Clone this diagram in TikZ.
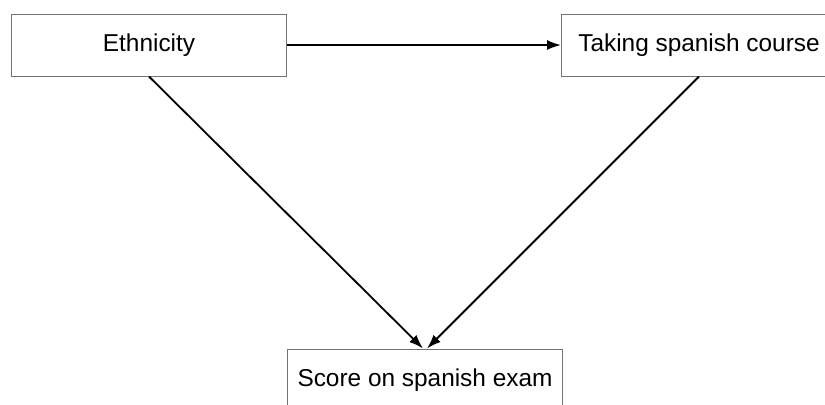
\documentclass[tikz,border=0pt]{standalone}
\usepackage{fontspec}
\setmainfont{Liberation Sans}
\usetikzlibrary{arrows.meta,positioning}

\begin{document}
\begin{tikzpicture}[
      x=0.5pt,y=-0.5pt,
      box/.style={draw=black!55,line width=0.5pt,minimum width=137.5pt,
                  minimum height=31pt,inner sep=0pt,
                  font=\fontsize{12.2}{14}\selectfont},
      arr/.style={-{Latex[length=7pt,width=5pt]},line width=0.9pt}]
    \useasboundingbox (0,0) rectangle (825,404);
    \node[box] (ethnicity) at (149,45) {Ethnicity};
    \node[box,right=137pt of ethnicity] (course) {Taking spanish course};
    \draw[arr] (ethnicity) -- (course);

    \node[box,below right=136pt and 0pt of ethnicity.south east] (score)
      {Score on spanish exam};
    \draw[arr] (ethnicity.south) -- ([xshift=-1pt]score.north);
    \draw[arr] (course.south) -- ([xshift=1pt]score.north);
  \end{tikzpicture}
\end{document}
